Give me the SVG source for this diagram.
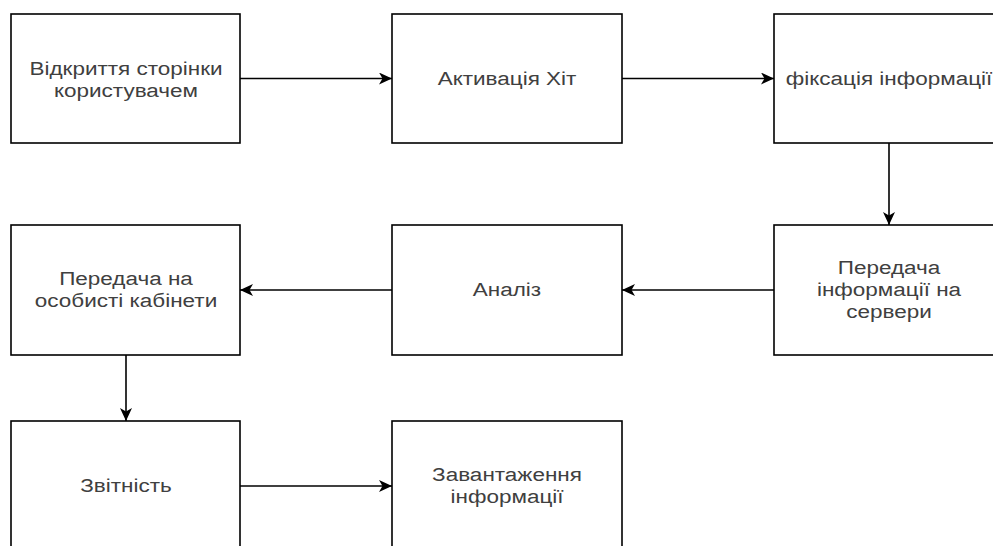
<svg xmlns="http://www.w3.org/2000/svg" width="993" height="546" viewBox="0 0 993 546">
  <style>
    .box { fill: #ffffff; stroke: #000000; stroke-width: 1.6; }
    .lbl { font-family: "Liberation Sans", Arial, sans-serif; font-size: 18px; fill: #404040; text-anchor: middle; }
    .edge { fill: none; stroke: #000000; stroke-width: 1.6; marker-end: url(#arrow); }
  </style>
  <defs>
    <marker id="arrow" markerUnits="userSpaceOnUse" markerWidth="14" markerHeight="12" refX="13" refY="6" orient="auto">
      <path d="M0,0 L13,6 L0,12 L3.5,6 Z" fill="#000000"/>
    </marker>
  </defs>
  <rect width="993" height="546" fill="#ffffff"/>

  <!-- labels use a widened face: each line is placed at its centre, then stretched horizontally -->
  <g id="node-open-page">
    <rect class="box" x="11" y="14" width="229" height="129"/>
    <text class="lbl" transform="translate(126,75) scale(1.25,1)">Відкриття сторінки</text>
    <text class="lbl" transform="translate(126,97) scale(1.25,1)">користувачем</text>
  </g>
  <g id="node-activate">
    <rect class="box" x="392" y="14" width="230" height="129"/>
    <text class="lbl" transform="translate(507,85) scale(1.25,1)">Активація Хіт</text>
  </g>
  <g id="node-record">
    <rect class="box" x="774" y="14" width="230" height="129"/>
    <text class="lbl" transform="translate(889,85) scale(1.25,1)">фіксація інформації</text>
  </g>

  <g id="node-cabinets">
    <rect class="box" x="11" y="225" width="229" height="130"/>
    <text class="lbl" transform="translate(126,285) scale(1.25,1)">Передача на</text>
    <text class="lbl" transform="translate(126,307) scale(1.25,1)">особисті кабінети</text>
  </g>
  <g id="node-analysis">
    <rect class="box" x="392" y="225" width="230" height="130"/>
    <text class="lbl" transform="translate(507,296) scale(1.25,1)">Аналіз</text>
  </g>
  <g id="node-send-server">
    <rect class="box" x="774" y="225" width="230" height="130"/>
    <text class="lbl" transform="translate(889,274) scale(1.25,1)">Передача</text>
    <text class="lbl" transform="translate(889,296) scale(1.25,1)">інформації на</text>
    <text class="lbl" transform="translate(889,318) scale(1.25,1)">сервери</text>
  </g>

  <g id="node-report">
    <rect class="box" x="11" y="421" width="229" height="130"/>
    <text class="lbl" transform="translate(126,492) scale(1.25,1)">Звітність</text>
  </g>
  <g id="node-upload">
    <rect class="box" x="392" y="421" width="230" height="130"/>
    <text class="lbl" transform="translate(507,481) scale(1.25,1)">Завантаження</text>
    <text class="lbl" transform="translate(507,503) scale(1.25,1)">інформації</text>
  </g>

  <g id="connectors">
    <path class="edge" d="M240,78.5 H392"/>
    <path class="edge" d="M622,78.5 H774"/>
    <path class="edge" d="M889,143 V225"/>
    <path class="edge" d="M774,290 H622"/>
    <path class="edge" d="M392,290 H240"/>
    <path class="edge" d="M126,355 V421"/>
    <path class="edge" d="M240,486 H392"/>
  </g>
</svg>
